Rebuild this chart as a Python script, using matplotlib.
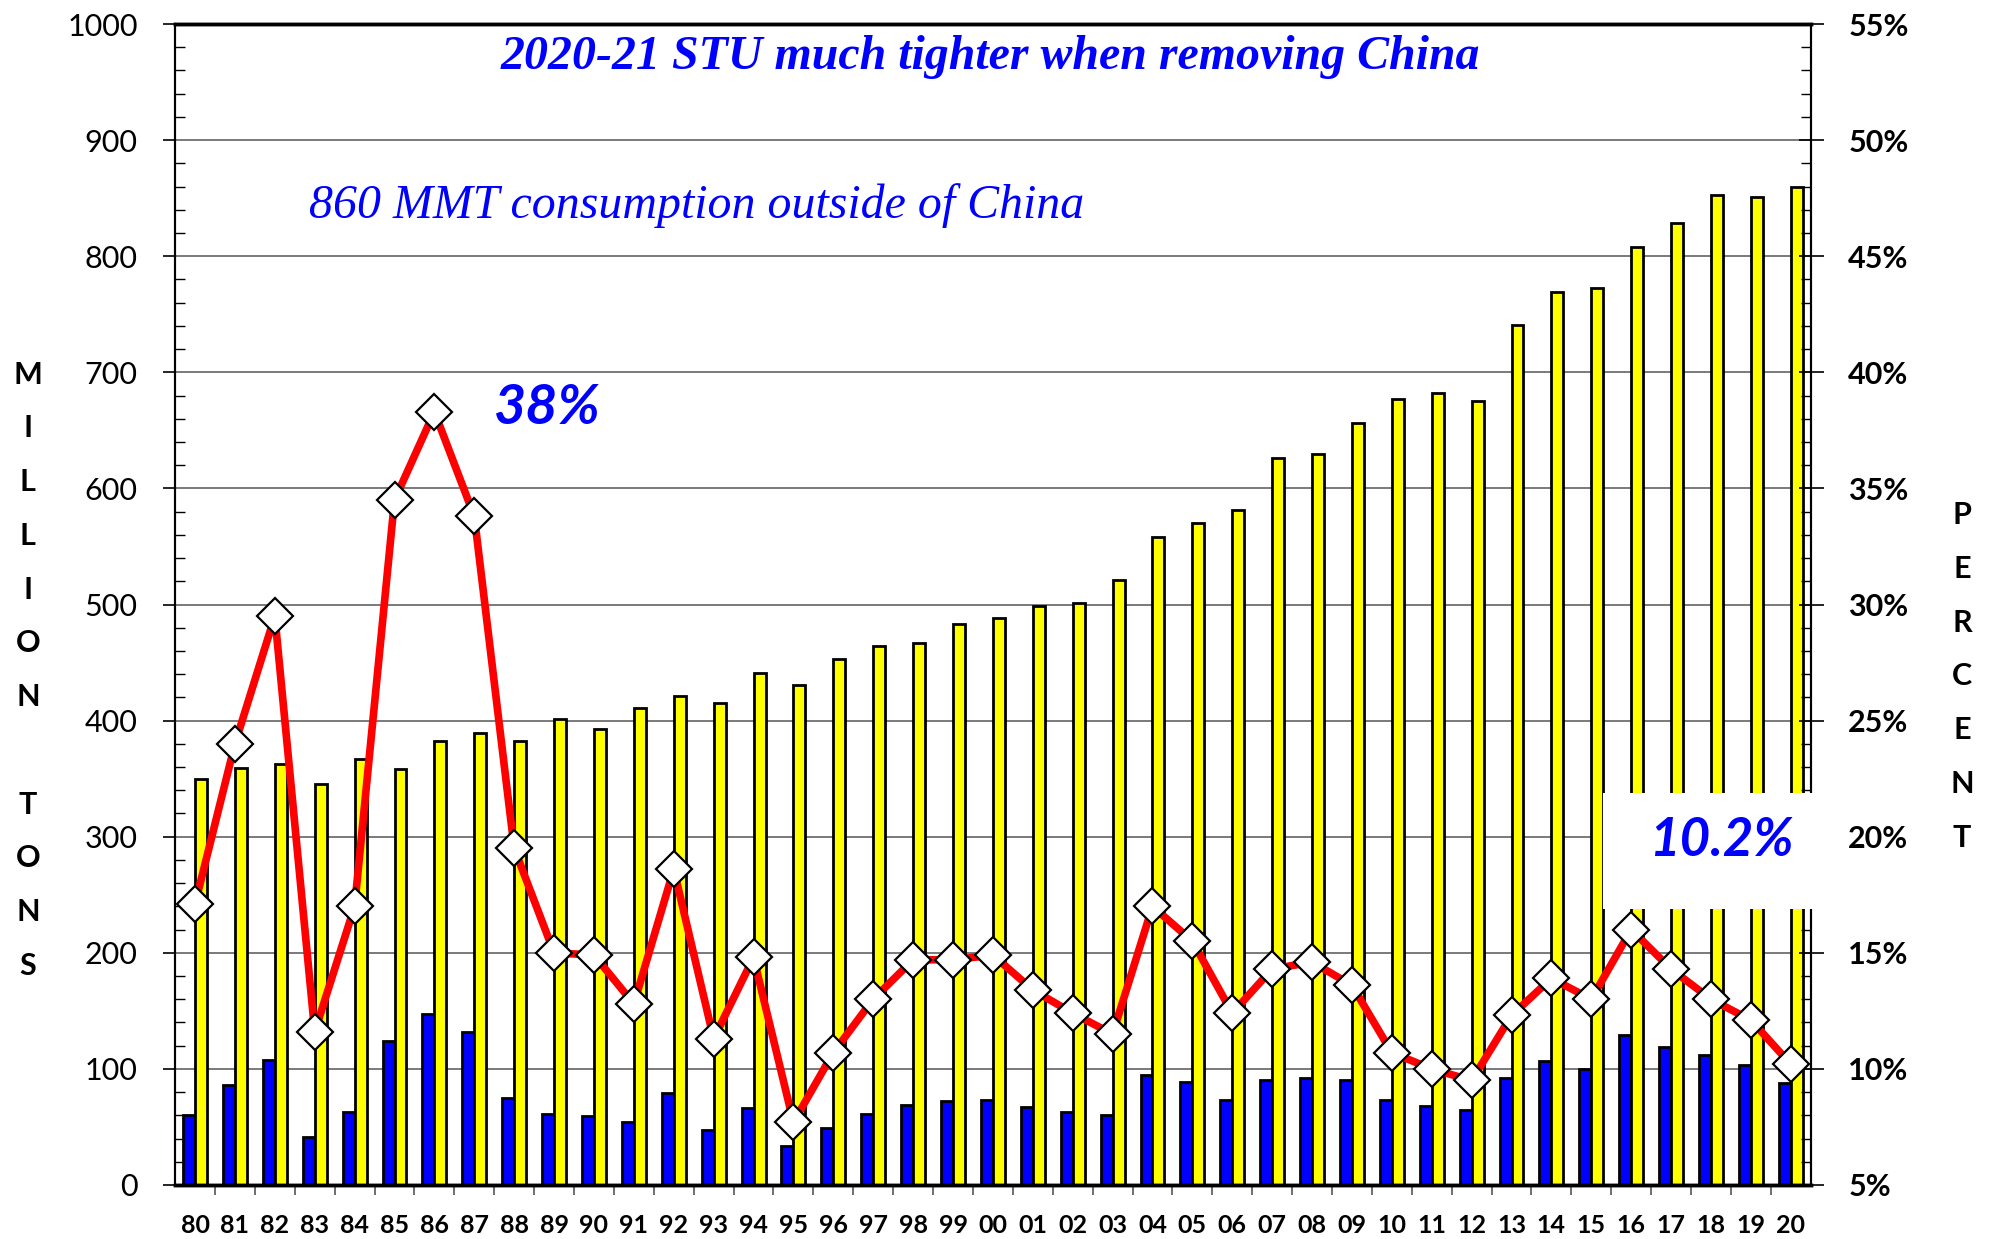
import numpy as np
import matplotlib.pyplot as plt
from matplotlib.patches import Rectangle

years = ['80', '81', '82', '83', '84', '85', '86', '87', '88', '89',
         '90', '91', '92', '93', '94', '95', '96', '97', '98', '99',
         '00', '01', '02', '03', '04', '05', '06', '07', '08', '09',
         '10', '11', '12', '13', '14', '15', '16', '17', '18', '19', '20']

# ending stocks outside China, MMT
stocks = [60, 86, 108, 41, 63, 124, 147, 132, 75, 61,
          59, 54, 79, 47, 66, 34, 49, 61, 69, 72,
          73, 67, 63, 60, 95, 89, 73, 90, 92, 90,
          73, 68, 65, 92, 107, 100, 129, 119, 112, 103, 88]

# consumption outside China, MMT
consumption = [350, 359, 363, 345, 367, 358, 382, 389, 382, 401,
               393, 411, 421, 415, 441, 431, 453, 464, 467, 483,
               488, 499, 501, 521, 558, 570, 581, 626, 630, 656,
               677, 682, 675, 741, 769, 773, 808, 829, 853, 851, 860]

# stocks-to-use, percent
stu = [17.1, 24.0, 29.5, 11.6, 17.0, 34.5, 38.3, 33.8, 19.5, 15.0,
       14.9, 12.8, 18.6, 11.3, 14.8, 7.7, 10.7, 13.0, 14.7, 14.7,
       14.9, 13.4, 12.4, 11.5, 17.0, 15.5, 12.4, 14.3, 14.6, 13.6,
       10.7, 10.0, 9.5, 12.3, 13.9, 13.0, 16.0, 14.3, 13.0, 12.1, 10.2]

sans = 'Lato'
serif = 'Liberation Serif'

fig = plt.figure(figsize=(19.92, 12.39), dpi=100)
ax1 = fig.add_axes([0.0879, 0.0436, 0.8211, 0.937])
ax2 = ax1.twinx()

x = np.arange(len(years))
ax1.bar(x - 0.15, stocks, width=0.3, color='#0000FF', edgecolor='black',
        linewidth=2, zorder=2)
ax1.bar(x + 0.15, consumption, width=0.3, color='#FFFF00', edgecolor='black',
        linewidth=2, zorder=2)
ax1.set_xlim(-0.5, len(years) - 0.5)
ax1.set_ylim(0, 1000)
ax1.set_yticks(np.arange(0, 1001, 100))
ax1.set_yticks(np.arange(0, 1001, 20), minor=True)
ax1.yaxis.grid(True, which='major', color='#707070', linewidth=1.3)
ax1.set_axisbelow(True)
ax1.tick_params(axis='y', which='major', direction='out', length=9, width=1.2,
                pad=18, labelsize=22)
ax1.tick_params(axis='y', which='minor', direction='in', length=7, width=1.0)
for lab in ax1.get_yticklabels():
    lab.set_fontfamily(sans)

ax1.set_xticks(x)
ax1.set_xticklabels(years, fontfamily=sans, fontweight='bold', fontsize=18)
ax1.set_xticks(x[:-1] + 0.5, minor=True)
ax1.tick_params(axis='x', which='major', length=0, pad=21)
ax1.tick_params(axis='x', which='minor', direction='out', length=7,
                width=1.2, color='#555555')

ax2.plot(x, stu, color='red', linewidth=5.5, marker='D', markersize=18,
         markerfacecolor='white', markeredgecolor='black',
         markeredgewidth=1.6, zorder=3)
ax2.set_ylim(5, 55)
ax2.set_yticks(np.arange(5, 56, 5))
ax2.set_yticklabels(['{}%'.format(v) for v in range(5, 56, 5)],
                    fontfamily=sans, fontweight='bold', fontsize=22)
ax2.set_yticks(np.arange(5, 56, 1), minor=True)
ax2.tick_params(axis='y', which='major', direction='inout', length=18,
                width=1.2, pad=18)
ax2.tick_params(axis='y', which='minor', direction='in', length=7, width=1.0)

for ax in (ax1, ax2):
    ax.spines['top'].set_linewidth(2.5)
    ax.spines['bottom'].set_linewidth(2.5)
    ax.spines['left'].set_linewidth(1.5)
    ax.spines['right'].set_linewidth(1.5)

fig.text(0.497, 0.954, '2020-21 STU much tighter when removing China',
         ha='center', va='center', color='#0000FF', fontsize=34.5,
         fontfamily=serif, fontweight='bold', fontstyle='italic')
fig.text(0.155, 0.834, '860 MMT consumption outside of China',
         ha='left', va='center', color='#0000FF', fontsize=34.5,
         fontfamily=serif, fontstyle='italic')
fig.text(0.275, 0.671, '38%', ha='center', va='center', color='#0000FF',
         fontsize=40, fontfamily=sans, fontweight='bold', fontstyle='italic')

# white backdrop behind the 10.2% callout, cutting through the bars and axis
ax2.add_patch(Rectangle((0.873, 0.238), 0.135, 0.1, transform=ax2.transAxes,
                        facecolor='white', edgecolor='none', zorder=9,
                        clip_on=False))
ax2.text(0.945, 0.297, '10.2%', transform=ax2.transAxes, ha='center',
         va='center', color='#0000FF', fontsize=38, fontfamily=sans,
         fontweight='bold', fontstyle='italic', zorder=10, clip_on=False)

fig.text(0.014, 0.459, '\n'.join('MILLION TONS'), ha='center', va='center',
         fontsize=22, fontfamily=sans, fontweight='bold', linespacing=2.12)
fig.text(0.985, 0.454, '\n'.join('PERCENT'), ha='center', va='center',
         fontsize=22, fontfamily=sans, fontweight='bold', linespacing=2.12)

fig.savefig('out.png', dpi=100)
